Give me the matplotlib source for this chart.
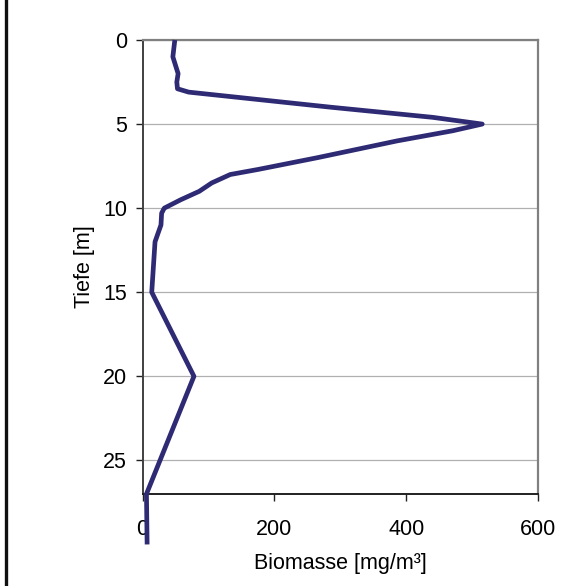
import matplotlib
matplotlib.use("Agg")
import matplotlib.pyplot as plt
from matplotlib.lines import Line2D

plt.rcParams['font.family'] = ['Liberation Sans', 'DejaVu Sans']

# Data: depth [m] and biomass [mg/m³]
depth = [0, 1, 2, 2.5, 2.9, 3.1, 4, 4.6, 5, 5.4, 6, 7, 7.7, 8, 8.5, 9, 9.5, 10, 10.3, 11, 12, 15, 20, 27, 30]
biomass = [49, 46, 54, 52, 53, 70, 286, 440, 515, 470, 386, 265, 175, 133, 105, 86, 58, 33, 29, 28, 19, 14, 78, 6, 7]

x_ticks = [0, 200, 400, 600]
y_ticks = [0, 5, 10, 15, 20, 25]
x_label = "Biomasse [mg/m³]"
y_label = "Tiefe [m]"

fig = plt.figure(figsize=(5.74, 5.86), dpi=100)
ax = fig.add_axes([142.5/574, 1-494/586, (538.3-142.5)/574, (494-40)/586])

ax.plot(biomass, depth, color='#2E2A74', lw=3.4, clip_on=False, zorder=5,
        solid_joinstyle='round', solid_capstyle='butt')

ax.set_xlim(0, 600)
ax.set_ylim(27, 0)
ax.set_xticks(x_ticks)
ax.set_yticks(y_ticks)
ax.yaxis.grid(True, color='#b0b0b0', lw=0.9)
ax.set_axisbelow(True)

for side in ['top', 'right']:
    ax.spines[side].set_color('#808080')
    ax.spines[side].set_linewidth(1.6)
ax.spines['left'].set_color('#404040')
ax.spines['left'].set_linewidth(1.4)
ax.spines['bottom'].set_color('#202020')
ax.spines['bottom'].set_linewidth(1.4)

ax.tick_params(axis='both', direction='out', length=5, width=1.0, color='#202020',
               labelsize=15.5)
ax.tick_params(axis='y', pad=6)
ax.tick_params(axis='x', pad=13)

ax.set_xlabel(x_label, fontsize=15.5, labelpad=9)
ax.set_ylabel(y_label, fontsize=15.5, labelpad=6)

# left border line of the image
fig.add_artist(Line2D([5.5/574, 5.5/574], [0, 1], transform=fig.transFigure,
                      color='#111111', lw=2.4))

fig.savefig("out.png", dpi=100)
